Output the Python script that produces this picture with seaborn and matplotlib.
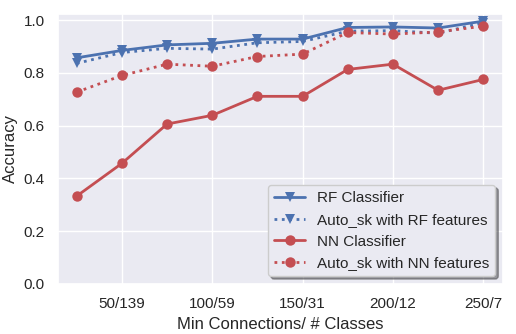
import numpy as np
import pandas as pd
import matplotlib
matplotlib.use("Agg")
import matplotlib.pyplot as plt
import seaborn as sns

# data
min_conn = [25, 50, 75, 100, 125, 150, 175, 200, 225, 250]
tick_pos = [50, 100, 150, 200, 250]
tick_labels = ["50/139", "100/59", "150/31", "200/12", "250/7"]

rf_clf = [0.857, 0.885, 0.906, 0.912, 0.928, 0.928, 0.972, 0.974, 0.970, 0.996]
auto_rf = [0.836, 0.877, 0.893, 0.890, 0.914, 0.919, 0.958, 0.960, 0.950, 0.990]
nn_clf = [0.333, 0.457, 0.606, 0.639, 0.711, 0.711, 0.813, 0.833, 0.734, 0.775]
auto_nn = [0.727, 0.790, 0.833, 0.825, 0.862, 0.871, 0.953, 0.947, 0.955, 0.977]

sns.set_theme(style="darkgrid", color_codes=True)
plt.rcParams['font.family'] = ['Liberation Sans', 'DejaVu Sans']

fig = plt.figure(figsize=(5.16, 3.34), dpi=100)
ax = fig.add_axes([0.112, 0.150, 0.863, 0.808])

ms = 7.5
lw = 2
sns.lineplot(x=min_conn, y=rf_clf, color='b', marker='v', markersize=ms, linewidth=lw,
             markeredgewidth=0, linestyle='-', label='RF Classifier', ax=ax)
sns.lineplot(x=min_conn, y=auto_rf, color='b', marker='v', markersize=ms, linewidth=lw,
             markeredgewidth=0, linestyle=':', label='Auto_sk with RF features', ax=ax)
sns.lineplot(x=min_conn, y=nn_clf, color='r', marker='o', markersize=ms, linewidth=lw,
             markeredgewidth=0, linestyle='-', label='NN Classifier', ax=ax)
sns.lineplot(x=min_conn, y=auto_nn, color='r', marker='o', markersize=ms, linewidth=lw,
             markeredgewidth=0, linestyle=':', label='Auto_sk with NN features', ax=ax)

ax.set_xticks(tick_pos)
ax.set_xticklabels(tick_labels)
ax.set_xlim(14.5, 261)
ax.set_ylim(0, 1.023)
ax.set_yticks([0.0, 0.2, 0.4, 0.6, 0.8, 1.0])
ax.set_xlabel("Min Connections/ # Classes")
ax.set_ylabel("Accuracy")
ax.legend(loc='lower right', shadow=True, frameon=True)

fig.savefig("out.png", dpi=100)
